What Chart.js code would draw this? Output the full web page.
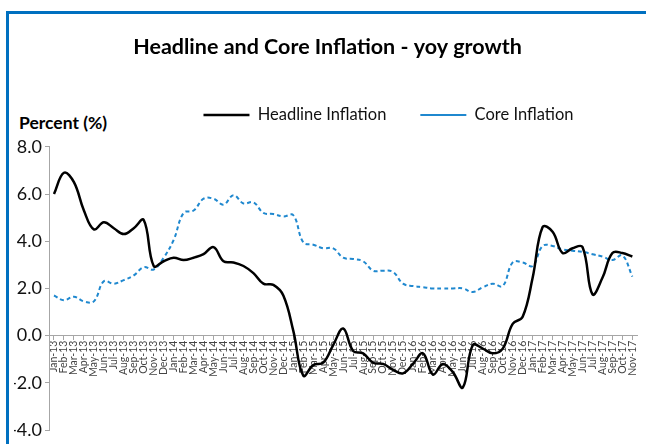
<!DOCTYPE html>
<html>
<head>
<meta charset="utf-8">
<title>Headline and Core Inflation - yoy growth</title>
<script src="https://cdn.jsdelivr.net/npm/chart.js@4.4.0/dist/chart.umd.min.js"></script>
<style>
    html, body { margin: 0; padding: 0; background: #fff; }
    #wrap { position: relative; width: 646px; height: 444px; overflow: hidden; }
    #frame { position: absolute; left: 6px; top: 11px; right: -10px; bottom: -10px;
             border-top: 3px solid #0070c0; border-left: 3px solid #0070c0; }
    #unit { position: absolute; left: 19px; top: 112px; font: bold 17.5px Lato, sans-serif; color: #000; }
    canvas { position: absolute; left: 0; top: 0; }
</style>
</head>
<body>
<div id="wrap">
    <div id="frame"></div>
    <div id="unit">Percent (%)</div>
    <canvas id="inflationChart" width="646" height="444"></canvas>
</div>
<script>
//month labels on the x axis
var months = [
    'Jan-13','Feb-13','Mar-13','Apr-13','May-13','Jun-13','Jul-13','Aug-13','Sep-13','Oct-13','Nov-13','Dec-13',
    'Jan-14','Feb-14','Mar-14','Apr-14','May-14','Jun-14','Jul-14','Aug-14','Sep-14','Oct-14','Nov-14','Dec-14',
    'Jan-15','Feb-15','Mar-15','Apr-15','May-15','Jun-15','Jul-15','Aug-15','Sep-15','Oct-15','Nov-15','Dec-15',
    'Jan-16','Feb-16','Mar-16','Apr-16','May-16','Jun-16','Jul-16','Aug-16','Sep-16','Oct-16','Nov-16','Dec-16',
    'Jan-17','Feb-17','Mar-17','Apr-17','May-17','Jun-17','Jul-17','Aug-17','Sep-17','Oct-17','Nov-17'
];

//yoy growth, percent
var headlineInflation = [
    6.0, 6.9, 6.5, 5.3, 4.5, 4.8, 4.55, 4.3, 4.55, 4.9, 2.95, 3.15,
    3.3, 3.2, 3.3, 3.45, 3.75, 3.15, 3.1, 2.95, 2.65, 2.2, 2.15, 1.7,
    0.2, -1.7, -1.25, -1.15, -0.4, 0.3, -0.65, -0.75, -1.15, -1.2, -1.45, -1.6,
    -1.2, -0.75, -1.65, -1.2, -1.55, -2.2, -0.4, -0.55, -0.75, -0.55, 0.5, 0.8,
    2.45, 4.6, 4.4, 3.5, 3.7, 3.75, 1.75, 2.45, 3.5, 3.5, 3.35
];
var coreInflation = [
    1.7, 1.5, 1.65, 1.45, 1.45, 2.3, 2.2, 2.35, 2.55, 2.9, 2.8, 3.3,
    4.05, 5.2, 5.3, 5.8, 5.8, 5.55, 5.95, 5.6, 5.65, 5.2, 5.15, 5.05,
    5.1, 3.95, 3.85, 3.7, 3.7, 3.3, 3.25, 3.15, 2.75, 2.75, 2.7, 2.2,
    2.1, 2.05, 2.0, 2.0, 2.0, 2.0, 1.85, 2.05, 2.2, 2.1, 3.1, 3.1,
    2.95, 3.8, 3.8, 3.65, 3.6, 3.55, 3.45, 3.35, 3.2, 3.4, 2.5
];

//y axis
var yMin = -4;
var yMax = 8;
var yStep = 2;

var fontFamily = 'Lato, "Open Sans", sans-serif';
var axisGrey = '#a6a6a6';

//legend sits right of centre in the original
var shiftLegend = {
    id: 'shiftLegend',
    afterLayout: function(chart) {
        chart.legend.left += 61;
        chart.legend.right += 61;
    }
};

var ctx = document.getElementById('inflationChart').getContext('2d');
var chart = new Chart(ctx, {
    type: 'line',
    data: {
        labels: months,
        datasets: [{
            label: 'Headline Inflation',
            data: headlineInflation,
            borderColor: '#000000',
            backgroundColor: '#000000',
            borderWidth: 2.5,
            pointRadius: 0,
            tension: 0.4
        }, {
            label: 'Core Inflation',
            data: coreInflation,
            borderColor: '#1f88cf',
            backgroundColor: '#1f88cf',
            borderWidth: 2,
            borderDash: [4, 3],
            pointRadius: 0,
            tension: 0.4
        }]
    },
    options: {
        responsive: false,
        animation: false,
        layout: { padding: { top: 0, left: 14, right: 5, bottom: 14 } },
        plugins: {
            title: {
                display: true,
                text: 'Headline and Core Inflation - yoy growth',
                color: '#000',
                font: { family: fontFamily, size: 21.5, weight: 'bold' },
                padding: { top: 34, bottom: 13 }
            },
            legend: {
                display: true,
                labels: {
                    usePointStyle: true,
                    pointStyle: 'line',
                    pointStyleWidth: 46,
                    color: '#111',
                    padding: 34,
                    font: { family: fontFamily, size: 16.5 }
                }
            },
            tooltip: { enabled: false }
        },
        scales: {
            x: {
                position: { y: 0 },
                offset: true,
                ticks: {
                    autoSkip: false,
                    minRotation: 90,
                    maxRotation: 90,
                    padding: 1,
                    color: '#444',
                    font: { family: fontFamily, size: 10.5 }
                },
                grid: { drawOnChartArea: false, tickLength: 4, color: axisGrey },
                border: { color: axisGrey }
            },
            y: {
                min: yMin,
                max: yMax,
                ticks: {
                    stepSize: yStep,
                    padding: 3,
                    color: '#111',
                    font: { family: fontFamily, size: 18 },
                    callback: function(v) { return v.toFixed(1); }
                },
                grid: { drawOnChartArea: false, tickLength: 4, color: axisGrey },
                border: { color: axisGrey },
                afterFit: function(scale) { scale.width = 35; }
            }
        }
    },
    plugins: [shiftLegend]
});

//fix the legend block height so the plot starts where the original does
var baseFit = chart.legend.fit;
chart.legend.fit = function() {
    baseFit.call(this);
    this.height = 74;
};
chart.update();
</script>
</body>
</html>
